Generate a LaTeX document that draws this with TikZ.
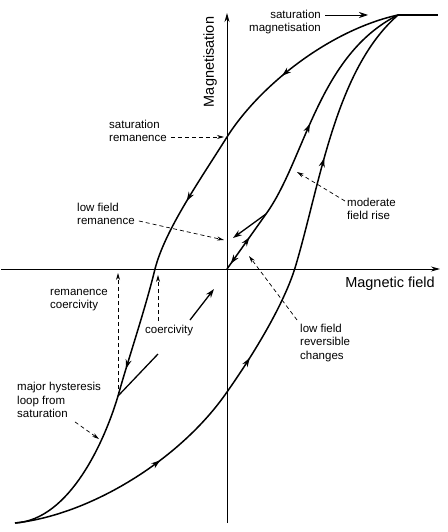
\documentclass[tikz,border=0pt]{standalone}
\usepackage{fontspec}
\setmainfont{Liberation Sans}
\usetikzlibrary{arrows.meta,decorations.markings}

\newcommand\pointe{\arrow{Stealth[length=9pt,width=6pt]}}
\newcommand\pointeinv{\arrow{Stealth[length=9pt,width=6pt,reversed]}}

\tikzset{
  courbe/.style={line width=1.5pt,line join=round,postaction=decorate},
  axe/.style={line width=0.9pt,-{Stealth[length=9pt,width=5pt]}},
  legende/.style={inner sep=0pt,align=left,font=\fontsize{11.5}{13.5}\selectfont},
  titre/.style={inner sep=0pt,font=\fontsize{14.5}{16}\selectfont},
  renvoi/.style={line width=0.7pt,dash pattern=on 4pt off 3pt,-{Stealth[length=7pt,width=4pt]}},
  fleche/.style={line width=1.3pt,-{Stealth[length=9pt,width=6pt]}},
}

\begin{document}
\begin{tikzpicture}[x=1pt,y=-1pt]
	\useasboundingbox (0,0) rectangle (447,532);
	% les axes
	\coordinate (O) at (227,269);
	\draw[axe] (1,269) -- (440,269); % l'axe des abscisses
	\draw[axe] (227,523) -- (227,13); % l'axe des ordonnées
	\node[titre,rotate=90] (aimant) at (210,62) {Magnetisation};
	\node[titre] (champ) at (390,284) {Magnetic field};
	% points du cycle
	\coordinate (sat) at (398,15);    % saturation
	\coordinate (nsat) at (15,523);   % saturation negative
	\coordinate (brem) at (227,137);  % remanence
	\coordinate (hc) at (155,269);    % coercivite
	\coordinate (recul) at (118,396);
	\coordinate (hc2) at (295,268);
	\coordinate (bneg) at (227,392);
	\draw[line width=1.5pt] (sat) -- (438,15);
	% branche descendante du cycle majeur
	\draw[courbe,decoration={markings,mark=at position 0.197 with {\pointe},
	    mark=at position 0.433 with {\pointe},mark=at position 0.70 with {\pointe}}]
	  (sat) .. controls (330,30) and (260,85) .. (brem)
	  .. controls (200,180) and (165,230) .. (hc)
	  .. controls (145,310) and (128,360) .. (recul)
	  .. controls (105,440) and (70,520) .. (nsat);
	% branche montante du cycle majeur
	\draw[courbe,decoration={markings,mark=at position 0.237 with {\pointe},
	    mark=at position 0.44 with {\pointe},mark=at position 0.758 with {\pointe}}]
	  (nsat) .. controls (90,515) and (180,460) .. (bneg)
	  .. controls (260,345) and (285,300) .. (hc2)
	  .. controls (320,185) and (335,70) .. (sat);
	% courbe de première aimantation
	\coordinate (retour) at (266,214);
	\draw[courbe,decoration={markings,mark=at position 0.05 with {\pointeinv},
	    mark=at position 0.125 with {\pointe},mark=at position 0.54 with {\pointe}}]
	  (O) -- (retour) .. controls (305,160) and (318,55) .. (sat);
	\coordinate (faible) at (233,238);
	\draw[fleche] (retour) -- (faible);
	% petit cycle depuis le cycle majeur
	\coordinate (recul2) at (158,354);
	\draw[line width=1.3pt] (recul) -- (recul2);
	\coordinate (suite1) at (190,320);
	\coordinate (suite2) at (214,289);
	\draw[fleche] (suite1) -- (suite2);
	% legendes
	\node[legende,align=right,anchor=east] (satmag) at (321,22) {saturation\\magnetisation};
	\draw[fleche,line width=0.8pt] ([shift={(4,-7)}]satmag.east) -- (368,15);
	\node[legende,anchor=west] (satrem) at (109,131) {saturation\\remanence};
	\draw[renvoi] ([shift={(4,6)}]satrem.east) -- (224,137);
	\node[legende,anchor=west] (lowrem) at (77,214) {low field\\remanence};
	\draw[renvoi] ([shift={(4,7)}]lowrem.east) -- (224,240);
	\node[legende,anchor=west] (modrise) at (347,209) {moderate\\field rise};
	\draw[renvoi] ([shift={(-2,-8)}]modrise.west) -- (297,172);
	\node[legende,anchor=west] (lowrev) at (300,343) {low field\\reversible\\changes};
	\draw[renvoi] ([shift={(-3,-4)}]lowrev.north west) -- (249,256);
	\node[legende,anchor=west] (remcoer) at (50,300) {remanence\\coercivity};
	\draw[renvoi] (recul) -- (118,273);
	\node[legende,anchor=west] (coer) at (145,331) {coercivity};
	\draw[renvoi] ([shift={(13,-10)}]coer.west) -- (158,275);
	\node[legende,anchor=west] (majeur) at (17,400) {major hysteresis\\loop from\\saturation};
	\draw[renvoi] ([shift={(58,4)}]majeur.south west) -- (99,439);
\end{tikzpicture}
\end{document}
